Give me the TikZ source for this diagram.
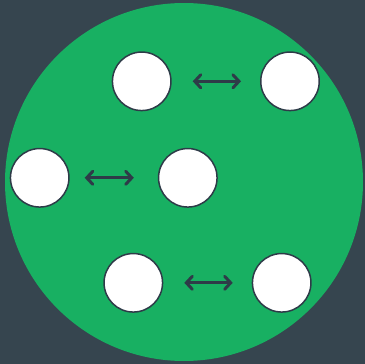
\documentclass[tikz,border=0pt]{standalone}
\usetikzlibrary{arrows.meta}
\definecolor{bgc}{HTML}{36454F}
\definecolor{grn}{HTML}{18B062}
\definecolor{ink}{HTML}{2E3B48}
\tikzset{
  ball/.style={circle, draw=ink, fill=white, line width=1.5pt, minimum size=58.5pt, inner sep=0pt},
  link/.style={draw=ink, line width=3pt, {Straight Barb[length=6pt,width=13pt,line cap=round]}-{Straight Barb[length=6pt,width=13pt,line cap=round]}, line cap=round}
}
\begin{document}
\begin{tikzpicture}[x=1pt,y=-1pt]
\fill[bgc] (0,0) rectangle (365,364);
\useasboundingbox (0,0) rectangle (365,364);
\fill[grn] (184,182) circle[radius=179];
\node[ball] (a1) at (141.7,81.3) {};
\node[ball] (a2) at (290,81.3) {};
\node[ball] (b1) at (39.7,177.8) {};
\node[ball] (b2) at (187.8,177.8) {};
\node[ball] (c1) at (133.3,282.8) {};
\node[ball] (c2) at (281.7,282.8) {};
\draw[link, shorten <=21pt, shorten >=19pt] (a1) -- (a2);
\draw[link, shorten <=15pt, shorten >=24pt] (b1) -- (b2);
\draw[link, shorten <=21pt, shorten >=19pt] (c1) -- (c2);
\end{tikzpicture}
\end{document}
